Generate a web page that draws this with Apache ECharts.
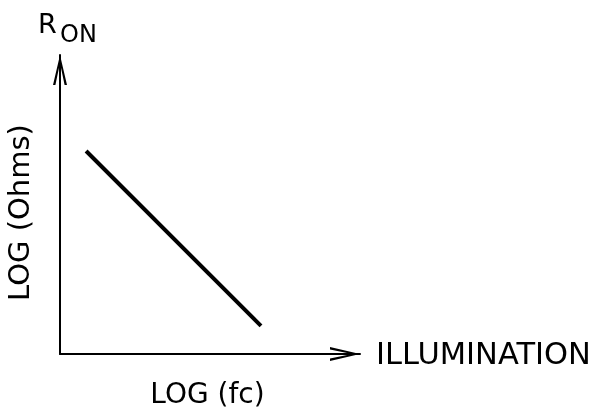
<!DOCTYPE html>
<html>
<head>
<meta charset="utf-8">
<script src="https://cdn.jsdelivr.net/npm/echarts@6/dist/echarts.min.js"></script>
<style>
  html, body { margin: 0; padding: 0; background: #fff; }
  #chart { width: 594px; height: 409px; }
</style>
</head>
<body>
<div id="chart"></div>
<script>
// sketch: R_ON falls with illumination (log-log)
var xRange = [0, 10];
var yRange = [0, 10];
var lineX = [0.87, 6.70];
var lineY = [6.79, 0.94];
var xName = 'LOG (fc)';
var yName = 'LOG (Ohms)';
var xEndLabel = 'ILLUMINATION';
var yEndLabel = ['R', 'ON'];

var font = 'DejaVu Sans';
var ink = '#000';
// open arrowhead, pointing up in its own box
var arrow = 'path://M7,0 L14,30 L11.6,30 L7,8 L2.4,30 L0,30 Z';

var chart = echarts.init(document.getElementById('chart'));

function axis(range, name, extra) {
  var a = {
    type: 'value',
    min: range[0],
    max: range[1],
    name: name,
    nameLocation: 'middle',
    axisLine: {
      show: true,
      onZero: false,
      symbol: ['none', arrow],
      symbolSize: [14, 30],
      symbolOffset: [0, -15],
      lineStyle: { color: ink, width: 2 }
    },
    axisTick: { show: false },
    axisLabel: { show: false },
    splitLine: { show: false }
  };
  for (var k in extra) a[k] = extra[k];
  return a;
}

chart.setOption({
  animation: false,
  backgroundColor: '#fff',
  grid: { left: 60, top: 55, width: 300, height: 299, outerBoundsMode: 'none', containLabel: false },
  xAxis: axis(xRange, xName, {
    nameGap: 28,
    nameTextStyle: { color: ink, fontFamily: font, fontSize: 28, padding: [0, 5, 0, 0] }
  }),
  yAxis: axis(yRange, yName, {
    nameGap: 24,
    nameRotate: 90,
    nameTextStyle: { color: ink, fontFamily: font, fontSize: 29, padding: [0, 16, 0, 0] }
  }),
  graphic: [
    { type: 'text', style: { text: yEndLabel[0], x: 38, y: 26, fontFamily: font, fontSize: 27, fill: ink, verticalAlign: 'middle' } },
    { type: 'text', style: { text: yEndLabel[1], x: 60, y: 36, fontFamily: font, fontSize: 24, fill: ink, verticalAlign: 'middle' } },
    { type: 'text', style: { text: xEndLabel, x: 376, y: 356, fontFamily: font, fontSize: 30.5, fill: ink, verticalAlign: 'middle' } }
  ],
  series: [{
    type: 'line',
    data: lineX.map(function (x, i) { return [x, lineY[i]]; }),
    symbol: 'none',
    lineStyle: { color: ink, width: 4 }
  }]
});

window.addEventListener('resize', function () { chart.resize(); });
</script>
</body>
</html>
